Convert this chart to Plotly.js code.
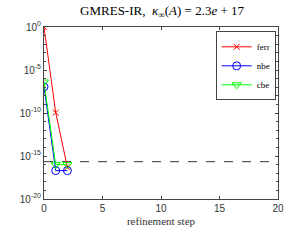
<!DOCTYPE html>
<html><head><meta charset="utf-8">
<script src="https://cdn.plot.ly/plotly-3.0.1.min.js"></script>
<style>html,body{margin:0;padding:0;background:#fff}#c{width:292px;height:240px}</style>
</head><body><div id="c"></div>
<script>
const steps = [0, 1, 2];
const ferr = [1.0, 1.1e-10, 5e-17];
const nbe = [1.1e-7, 2e-17, 2e-17];
const cbe = [4e-7, 1e-16, 1e-16];
const uLine = [2.2e-16, 2.2e-16];
const uX = [0, 20];
const yTickVals = [1, 1e-5, 1e-10, 1e-15, 1e-20];
const yTickText = ['10<sup>0</sup>', '10<sup>-5</sup>', '10<sup>-10</sup>', '10<sup>-15</sup>', '10<sup>-20</sup>'];
const minorVals = [1e-1,1e-2,1e-3,1e-4,1e-6,1e-7,1e-8,1e-9,1e-11,1e-12,1e-13,1e-14,1e-16,1e-17,1e-18,1e-19];

const serif = 'Liberation Serif';
const traces = [
  {x: uX, y: uLine, mode: 'lines', line: {color: '#333', width: 1, dash: 'dash'}, showlegend: false, hoverinfo: 'skip'},
  {x: steps, y: ferr, name: 'ferr', mode: 'lines+markers', line: {color: '#ff0000', width: 1},
   marker: {symbol: 'x-thin-open', size: 6, color: '#ff0000', line: {color: '#ff0000', width: 1}}},
  {x: steps, y: nbe, name: 'nbe', mode: 'lines+markers', line: {color: '#0000ff', width: 1},
   marker: {symbol: 'circle-open', size: 8, color: '#0000ff', line: {width: 1}}},
  {x: steps, y: cbe, name: 'cbe', mode: 'lines+markers', line: {color: '#00ff00', width: 1},
   marker: {symbol: 'triangle-down-open', size: 8, color: '#00ff00', line: {width: 1}}}
];

const layout = {
  width: 292, height: 240,
  margin: {l: 44, r: 14, t: 27, b: 41},
  paper_bgcolor: '#fff', plot_bgcolor: '#fff',
  title: {text: 'GMRES-IR,  <i>κ</i><sub>∞</sub>(<i>A</i>) = 2.3<i>e</i> + 17', x: 0.555, xanchor: 'center', y: 0.955, yanchor: 'middle',
          font: {family: serif, size: 13, color: '#000'}},
  xaxis: {range: [0, 20], tickvals: [0, 5, 10, 15, 20], ticks: 'inside', ticklen: 3, mirror: 'ticks',
          showline: true, linecolor: '#444', linewidth: 1, showgrid: false, zeroline: false,
          tickfont: {family: 'Liberation Sans', size: 10, color: '#333'},
          title: {text: 'refinement step', font: {family: serif, size: 11, color: '#333'}, standoff: 4}},
  yaxis: {type: 'log', range: [-20, 0], tickvals: yTickVals, ticktext: yTickText, ticks: 'inside', ticklen: 3,
          mirror: 'ticks', showline: true, linecolor: '#444', linewidth: 1, showgrid: false, zeroline: false,
          tickfont: {family: 'Liberation Sans', size: 10, color: '#333'},
          minor: {tickvals: minorVals, ticks: 'inside', ticklen: 2, tickcolor: '#444'}},
  legend: {x: 0.99, y: 0.975, xanchor: 'right', yanchor: 'top', bgcolor: '#fff', bordercolor: '#444', borderwidth: 1,
           font: {family: serif, size: 9, color: '#000'}, itemwidth: 30, tracegroupgap: 0, tracegroupgap: 0},
  showlegend: true
};
Plotly.newPlot('c', traces, layout, {displayModeBar: false, staticPlot: true});
</script></body></html>
